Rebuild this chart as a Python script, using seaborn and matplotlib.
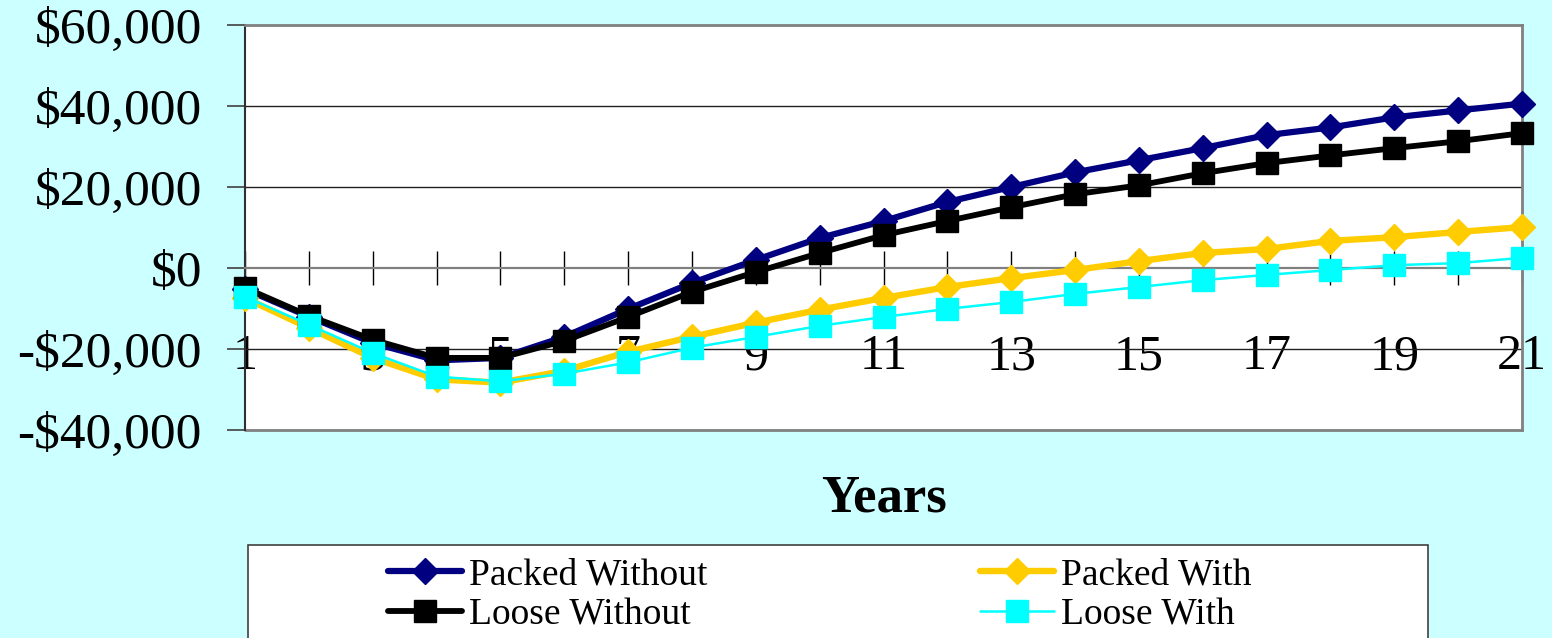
import matplotlib
matplotlib.use("Agg")
import matplotlib.pyplot as plt
from matplotlib.patches import Rectangle
from matplotlib.ticker import FuncFormatter
import seaborn as sns

# Cumulative cash position by year for each option
years = list(range(1, 22))
packed_without = [-5200, -12000, -18500, -22800, -22200, -17000, -10100, -3700, 2000, 7400,
                  11600, 16300, 20000, 23600, 26600, 29600, 32800, 34700, 37200, 38900, 40600]
packed_with = [-7400, -14800, -22200, -27500, -28300, -25400, -20700, -17000, -13500, -10300,
               -7400, -4700, -2500, -500, 1700, 3700, 4700, 6700, 7600, 8900, 10100]
loose_without = [-4900, -11800, -17700, -22200, -22200, -18000, -12100, -5900, -1000, 3700,
                 8100, 11600, 15000, 18200, 20400, 23400, 25900, 27800, 29600, 31300, 33300]
loose_with = [-7100, -14000, -21000, -26800, -28000, -26100, -23300, -19700, -17000, -14300,
              -12100, -10100, -8400, -6400, -4700, -3000, -1700, -500, 700, 1200, 2500]

series_names = ["Packed Without", "Packed With", "Loose Without", "Loose With"]
y_ticks = [-40000, -20000, 0, 20000, 40000, 60000]
x_labels = [str(y) if y % 2 == 1 else "" for y in years]

sns.set_style("white")
plt.rcParams["font.family"] = ["Liberation Serif", "DejaVu Serif"]
plt.rcParams["text.color"] = "black"
plt.rcParams["axes.labelcolor"] = "black"
plt.rcParams["xtick.color"] = "black"
plt.rcParams["ytick.color"] = "black"

BG = "#CCFFFF"
fig = plt.figure(figsize=(15.52, 6.38), dpi=100, facecolor=BG)
ax = fig.add_axes([245 / 1552, 1 - 430 / 638, 1277 / 1552, 405 / 638])
ax.set_facecolor("white")

styles = {
    "Packed Without": dict(color="#000080", marker="D", markersize=13.5, linewidth=4.5),
    "Packed With": dict(color="#FFCC00", marker="D", markersize=13.5, linewidth=4.6),
    "Loose Without": dict(color="#000000", marker="s", markersize=16.5, linewidth=4.2),
    "Loose With": dict(color="#00FFFF", marker="s", markersize=16, linewidth=1.8),
}
values = {
    "Packed Without": packed_without,
    "Packed With": packed_with,
    "Loose Without": loose_without,
    "Loose With": loose_with,
}

for name in series_names:
    st = styles[name]
    sns.lineplot(x=years, y=values[name], ax=ax, label=name,
                 color=st["color"], marker=st["marker"], markersize=st["markersize"],
                 linewidth=st["linewidth"], markeredgecolor=st["color"],
                 markeredgewidth=1.0, clip_on=False, zorder=5)

ax.set_xlim(1, 21)
ax.set_ylim(-40000, 60000)

# Value axis
ax.set_yticks(y_ticks)
ax.yaxis.set_major_formatter(FuncFormatter(
    lambda v, _: ("-$" if v < 0 else "$") + f"{abs(int(v)):,}"))
ax.tick_params(axis="y", direction="out", length=13, width=1.2, color="#404040",
               labelcolor="black", pad=18, labelsize=37, left=True)
for v in (-20000, 20000, 40000):
    ax.axhline(v, color="#202020", linewidth=1.0, zorder=1)

# Category axis crosses at zero
ax.spines["bottom"].set_position(("data", 0))
ax.spines["bottom"].set_color("#808080")
ax.spines["bottom"].set_linewidth(1.6)
ax.set_xticks(years)
ax.set_xticklabels(x_labels)
ax.tick_params(axis="x", direction="inout", length=24.5, width=1.0, color="#000000",
               labelcolor="black", pad=35, labelsize=36, bottom=True)
ax.axhline(-40000, color="#808080", linewidth=2.0, clip_on=False, zorder=2)

for side in ("top", "right"):
    ax.spines[side].set_color("#808080")
    ax.spines[side].set_linewidth(2.0)
ax.spines["left"].set_color("#303030")
ax.spines["left"].set_linewidth(1.5)

ax.set_xlabel("Years", fontsize=38, fontweight="bold", va="center", color="black")
ax.xaxis.set_label_coords(0.5, (430 - 499) / 405)

# Legend box and entries
if ax.get_legend():
    ax.get_legend().remove()
fig.add_artist(Rectangle((248 / 1552, -0.05), 1180 / 1552, 0.05 + (1 - 545 / 638),
                         transform=fig.transFigure, facecolor="white",
                         edgecolor="#404040", linewidth=1.2, zorder=0))
lines = {ln.get_label(): ln for ln in ax.get_lines()}
leg_kw = dict(loc="upper left", frameon=False, fontsize=27, handlelength=1.97,
              handletextpad=0.2, labelspacing=0.14, borderpad=0, borderaxespad=0)
fig.legend([lines["Packed Without"], lines["Loose Without"]],
           ["Packed Without", "Loose Without"],
           bbox_to_anchor=(388 / 1552, 1 - 558 / 638), **leg_kw)
fig.legend([lines["Packed With"], lines["Loose With"]],
           ["Packed With", "Loose With"],
           bbox_to_anchor=(980 / 1552, 1 - 558 / 638), **leg_kw)

fig.savefig("out.png", dpi=100, facecolor=BG)
